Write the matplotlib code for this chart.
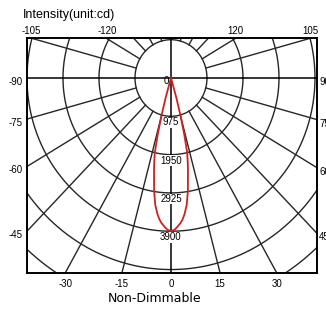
import numpy as np
import matplotlib.pyplot as plt
from matplotlib.transforms import offset_copy

# candela per ring
ring_step = 975
ring_labels = ['0', '975', '1950', '2925', '3900']

# luminous intensity curve (half, symmetric about 0 deg)
beam_angles = [0, 1.5, 2.5, 4, 5, 6, 7.5, 9, 10, 11, 12, 13, 14, 15, 16, 17, 18]
beam_cd = [3900, 3860, 3800, 3700, 3610, 3490, 3260, 2920, 2640, 2410, 2180, 1950,
           1500, 1010, 550, 120, 0]

bottom_labels = [-30, -15, 0, 15, 30]
side_labels = [90, 75, 60, 45]
top_labels = [105, 120]

fig = plt.figure(figsize=(3.26, 3.09), dpi=100)
ax = fig.add_axes([27 / 326, 36 / 309, 290 / 326, 235 / 309])
ax.set_xlim(-4.0 * ring_step, 4.056 * ring_step)
ax.set_ylim(-5.09 * ring_step, 1.044 * ring_step)
ax.set_xticks([])
ax.set_yticks([])
for s in ax.spines.values():
    s.set_linewidth(1.4)
    s.set_color('black')

grid_kw = dict(color='#262626', lw=1.0, zorder=1)

# rings
t = np.linspace(0, 2 * np.pi, 600)
for k in range(1, 8):
    r = k * ring_step
    ax.plot(r * np.cos(t), r * np.sin(t), **grid_kw)

# spokes (angle measured from straight down)
far = 12 * ring_step
for a in [15, 30, 45, 60, 75, 105, 120, 135, 150, 165]:
    for sgn in (-1, 1):
        th = np.radians(sgn * a)
        ax.plot([ring_step * np.sin(th), far * np.sin(th)],
                [-ring_step * np.cos(th), -far * np.cos(th)], **grid_kw)
ax.axvline(0, color='black', lw=1.1, zorder=1)
ax.axhline(0, color='black', lw=1.1, zorder=1)

# intensity curve
ang = np.radians(np.concatenate([-np.array(beam_angles[::-1]), beam_angles[1:]]))
cd = np.concatenate([beam_cd[::-1], beam_cd[1:]])
ax.plot(cd * np.sin(ang), -cd * np.cos(ang), color='#cc2222', lw=1.3, zorder=3)

txt = dict(fontsize=7, family='Liberation Sans')

# ring values along the 0 deg axis
for k, lab in enumerate(ring_labels):
    if k == 0:
        ax.text(0, 0, lab, ha='center', va='center', zorder=4,
                transform=offset_copy(ax.transData, fig, x=-5, y=-3, units='dots'), **txt)
    else:
        ax.text(0, -k * ring_step, lab, ha='center', va='top', zorder=4,
                bbox=dict(facecolor='white', edgecolor='none', pad=0.2),
                transform=offset_copy(ax.transData, fig, x=0, y=-1, units='dots'), **txt)

x0, x1 = ax.get_xlim()
y0, y1 = ax.get_ylim()

# bottom angle labels where spokes cross the bottom edge
for a in bottom_labels:
    th = np.radians(a)
    xb = -y0 * np.tan(th)
    ax.text(xb, y0, str(a), ha='center', va='top', clip_on=False,
            transform=offset_copy(ax.transData, fig, x=0, y=-6, units='dots'), **txt)

# side labels where spokes cross the left / right edges
for a in side_labels:
    th = np.radians(a)
    yl = x0 / np.tan(th)
    ax.text(x0, yl, '-' + str(a), ha='right', va='center', clip_on=False,
            transform=offset_copy(ax.transData, fig, x=-4, y=-4, units='dots'), **txt)
    yr = -x1 / np.tan(th)
    ax.text(x1, yr, str(a), ha='left', va='center', clip_on=False,
            transform=offset_copy(ax.transData, fig, x=2, y=-4, units='dots'), **txt)

# top labels where spokes cross the top edge
for a in top_labels:
    th = np.radians(a - 90)
    xt = y1 / np.tan(th)
    ax.text(-xt, y1, '-' + str(a), ha='center', va='bottom', clip_on=False,
            transform=offset_copy(ax.transData, fig, x=1, y=2, units='dots'), **txt)
    ax.text(xt, y1, str(a), ha='center', va='bottom', clip_on=False,
            transform=offset_copy(ax.transData, fig, x=-1, y=2, units='dots'), **txt)

fig.text(23 / 326, 1 - 15 / 309, 'Intensity(unit:cd)', ha='left', va='center',
         fontsize=9, family='Liberation Sans')
fig.text(155 / 326, 1 - 299 / 309, 'Non-Dimmable', ha='center', va='center',
         fontsize=9, family='DejaVu Sans')

fig.savefig('out.png', dpi=100)
